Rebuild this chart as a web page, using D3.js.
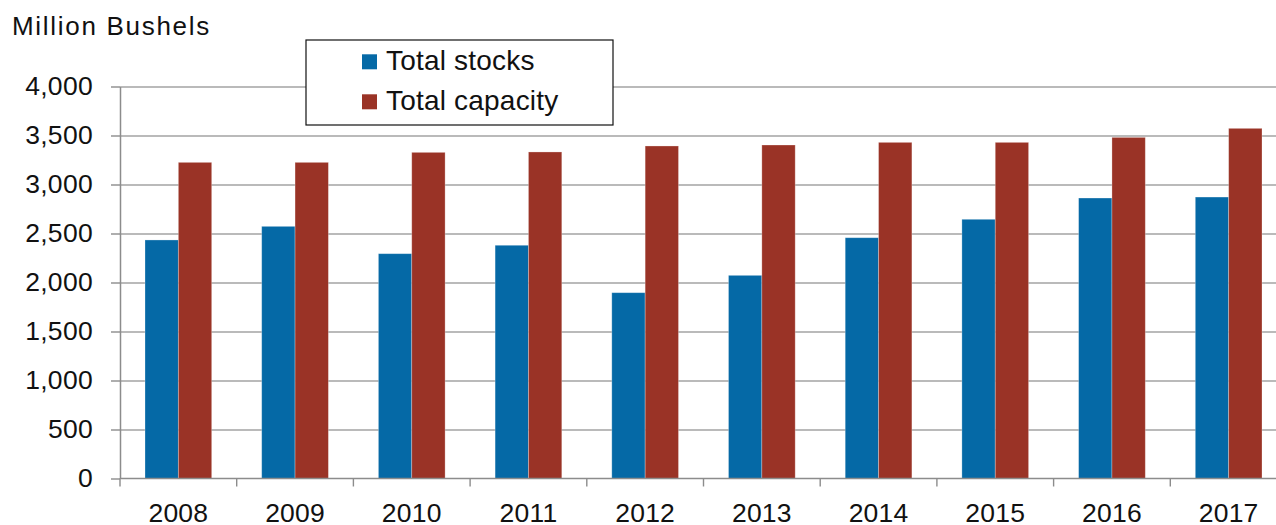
<!DOCTYPE html>
<html>
<head>
<meta charset="utf-8">
<script src="https://cdn.jsdelivr.net/npm/d3@7"></script>
<style>
  body { margin: 0; background: #fff; }
  text { font-family: "Liberation Sans", Arial, sans-serif; fill: #111; }
</style>
</head>
<body>
<script>
//data
var years = ["2008", "2009", "2010", "2011", "2012", "2013", "2014", "2015", "2016", "2017"];
var seriesNames = ["Total stocks", "Total capacity"];
var totalStocks = [2434, 2573, 2294, 2380, 1896, 2073, 2457, 2645, 2862, 2872];
var totalCapacity = [3226, 3226, 3328, 3332, 3393, 3403, 3430, 3430, 3481, 3573];
var yTicks = [0, 500, 1000, 1500, 2000, 2500, 3000, 3500, 4000];
var colors = ["#0569a6", "#9a3326"];

//frame
var width = 1276,
    height = 525;
var plotLeft = 120,
    bandW = 116.7,
    plotTop = 86.5,
    plotBottom = 478.5;

var svg = d3.select("body")
    .append("svg")
    .attr("width", width)
    .attr("height", height);

//scales
var x0 = d3.scaleBand()
    .domain(years)
    .range([plotLeft, plotLeft + bandW * years.length]);

var x1 = d3.scaleBand()
    .domain(seriesNames)
    .range([25, x0.bandwidth() - 25]);

var y = d3.scaleLinear()
    .domain([0, 4000])
    .range([plotBottom, plotTop]);

//gridlines
svg.append("g")
    .attr("class", "grid")
    .attr("transform", "translate(" + plotLeft + ",0)")
    .call(d3.axisLeft(y).tickValues(yTicks.slice(1)).tickSize(-(width - plotLeft)).tickFormat(""))
    .call(function(g){ g.select(".domain").remove(); })
    .selectAll("line")
    .attr("stroke", "#a3a3a3")
    .attr("stroke-width", 1.4);

//bars
var rows = years.map(function(yr, i){
    return { year: yr, values: [totalStocks[i], totalCapacity[i]] };
});

var groups = svg.selectAll(".year")
    .data(rows)
    .enter()
    .append("g")
    .attr("class", "year")
    .attr("transform", function(d){ return "translate(" + x0(d.year) + ",0)"; });

groups.selectAll("rect")
    .data(function(d){
        return d.values.map(function(v, j){ return { name: seriesNames[j], value: v, idx: j }; });
    })
    .enter()
    .append("rect")
    .attr("x", function(d){ return x1(d.name); })
    .attr("width", x1.bandwidth())
    .attr("y", function(d){ return y(d.value); })
    .attr("height", function(d){ return plotBottom - y(d.value); })
    .attr("fill", function(d){ return colors[d.idx]; })
    .attr("stroke", "rgba(255,255,255,0.35)")
    .attr("stroke-width", 0.8);

//y axis
var yAxis = svg.append("g")
    .attr("transform", "translate(" + plotLeft + ",0)")
    .call(d3.axisLeft(y).tickValues(yTicks).tickFormat(d3.format(",")).tickSize(9).tickSizeOuter(0).tickPadding(18));
yAxis.select(".domain").attr("stroke", "#8c8c8c").attr("stroke-width", 1.5);
yAxis.selectAll(".tick line").attr("stroke", "#8c8c8c").attr("stroke-width", 1.4);
yAxis.selectAll("text")
    .style("font-family", "'Liberation Sans', Arial, sans-serif")
    .style("font-size", "26.5px")
    .style("letter-spacing", "0.3px")
    .attr("fill", "#111");

//x axis: ticks at category boundaries
var xAxis = svg.append("g")
    .attr("transform", "translate(0," + plotBottom + ")");
xAxis.append("line")
    .attr("x1", plotLeft)
    .attr("x2", width)
    .attr("stroke", "#8c8c8c")
    .attr("stroke-width", 1.5);
xAxis.selectAll(".xtick")
    .data(years)
    .enter()
    .append("line")
    .attr("x1", function(d){ return x0(d); })
    .attr("x2", function(d){ return x0(d); })
    .attr("y1", 0)
    .attr("y2", 8)
    .attr("stroke", "#8c8c8c")
    .attr("stroke-width", 1.4);
xAxis.selectAll(".xlabel")
    .data(years)
    .enter()
    .append("text")
    .attr("x", function(d){ return x0(d) + x0.bandwidth() / 2; })
    .attr("y", 43.5)
    .attr("text-anchor", "middle")
    .style("font-size", "26.5px")
    .style("letter-spacing", "0.2px")
    .text(function(d){ return d; });

//axis title
svg.append("text")
    .attr("x", 12)
    .attr("y", 35)
    .style("font-size", "26px")
    .style("letter-spacing", "1.7px")
    .text("Million Bushels");

//legend
var legend = svg.append("g");
legend.append("rect")
    .attr("x", 306)
    .attr("y", 40)
    .attr("width", 307)
    .attr("height", 85)
    .attr("fill", "#fff")
    .attr("stroke", "#111")
    .attr("stroke-width", 1.2);

var items = legend.selectAll(".item")
    .data(seriesNames)
    .enter()
    .append("g")
    .attr("transform", function(d, i){ return "translate(362," + (54.3 + i * 40) + ")"; });
items.append("rect")
    .attr("width", 15)
    .attr("height", 15)
    .attr("fill", function(d, i){ return colors[i]; });
items.append("text")
    .attr("x", 24)
    .attr("y", 15.7)
    .style("font-size", "28px")
    .style("letter-spacing", "0.2px")
    .text(function(d){ return d; });
</script>
</body>
</html>
